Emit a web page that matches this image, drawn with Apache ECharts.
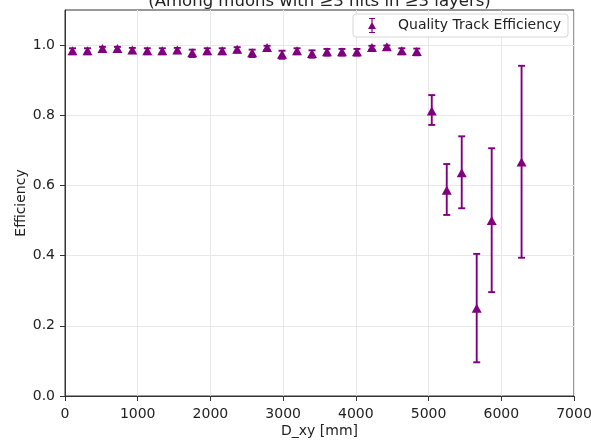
<!DOCTYPE html>
<html><head><meta charset="utf-8">
<script src="https://cdn.jsdelivr.net/npm/echarts@6/dist/echarts.min.js"></script>
<style>html,body{margin:0;padding:0;background:#fff}#c{width:591px;height:440px}</style>
</head><body><div id="c"></div>
<script>
// D_xy bin centres [mm]
const dxy = [103, 309, 515, 721, 926, 1132, 1338, 1544, 1750, 1956, 2162, 2368, 2574, 2779, 2985, 3191, 3397, 3603, 3809, 4015, 4221, 4426, 4632, 4838, 5044, 5250, 5456, 5662, 5868, 6279];
// efficiency values
const eff = [0.984, 0.984, 0.990, 0.990, 0.986, 0.984, 0.984, 0.986, 0.978, 0.984, 0.984, 0.988, 0.978, 0.993, 0.974, 0.984, 0.976, 0.981, 0.981, 0.981, 0.993, 0.995, 0.984, 0.982, 0.8125, 0.586, 0.636, 0.250, 0.500, 0.667];
// lower / upper error
const errLow = [0.010, 0.010, 0.008, 0.008, 0.009, 0.010, 0.010, 0.009, 0.012, 0.010, 0.010, 0.009, 0.012, 0.007, 0.013, 0.010, 0.012, 0.011, 0.011, 0.011, 0.007, 0.006, 0.010, 0.011, 0.040, 0.070, 0.101, 0.154, 0.204, 0.273];
const errHigh = [0.007, 0.007, 0.005, 0.005, 0.006, 0.007, 0.007, 0.006, 0.009, 0.007, 0.007, 0.006, 0.009, 0.005, 0.010, 0.007, 0.009, 0.008, 0.008, 0.008, 0.005, 0.004, 0.007, 0.008, 0.045, 0.075, 0.104, 0.155, 0.206, 0.274];
const xTicks = [0, 1000, 2000, 3000, 4000, 5000, 6000, 7000];
const yTicks = [0.0, 0.2, 0.4, 0.6, 0.8, 1.0];
const seriesName = 'Quality Track Efficiency';
const titleText = '(Among muons with ≥3 hits in ≥3 layers)';
const xName = 'D_xy [mm]';
const yName = 'Efficiency';

const purple = '#800080';
const FONT = 'DejaVu Sans';
const chart = echarts.init(document.getElementById('c'), null, {renderer: 'canvas'});
const pts = dxy.map((x, i) => [x, eff[i]]);
const bars = dxy.map((x, i) => [x, eff[i] - errLow[i], eff[i] + errHigh[i]]);
const legendIcon = 'path://M1,0H7V1H4.6V14H7V15H1V14H3.4V1H1Z M4,4L8,11H0Z';

const option = {
  animation: false,
  textStyle: {fontFamily: FONT},
  grid: {left: 65, right: 17, top: 10, bottom: 44, containLabel: false, outerBoundsMode: 'none',
         show: true, borderColor: '#333', borderWidth: 1, backgroundColor: 'transparent'},
  graphic: [{
    type: 'text', x: 319.5, y: 10, z: 100,
    style: {text: titleText, fontSize: 16.5, fill: '#222', align: 'center', verticalAlign: 'bottom', fontFamily: FONT}
  }],
  legend: {
    data: [{name: seriesName, icon: legendIcon}],
    left: 353, top: 14,
    padding: [4, 7, 4, 15],
    itemWidth: 8, itemHeight: 15,
    backgroundColor: '#fff', borderColor: '#d6d6d6', borderWidth: 1, borderRadius: 3,
    textStyle: {fontSize: 14, color: '#222', fontFamily: FONT, padding: [0, 0, 0, 17]}
  },
  xAxis: {
    type: 'value', min: 0, max: 7000, interval: 1000,
    name: xName, nameLocation: 'middle', nameGap: 28, nameMoveOverlap: false,
    nameTextStyle: {fontSize: 14, color: '#222', fontFamily: FONT},
    axisLine: {show: true, onZero: false, lineStyle: {color: '#333', width: 1}},
    axisTick: {show: true, length: 5, lineStyle: {color: '#333'}, customValues: xTicks},
    axisLabel: {fontSize: 14, color: '#222', margin: 11, customValues: xTicks, formatter: v => String(v)},
    splitLine: {show: true, lineStyle: {color: '#e8e8e8', width: 1}}
  },
  yAxis: {
    type: 'value', min: 0, max: 1.1, interval: 0.2,
    name: yName, nameLocation: 'middle', nameGap: 37, nameMoveOverlap: false,
    nameTextStyle: {fontSize: 14, color: '#222', fontFamily: FONT},
    axisLine: {show: true, onZero: false, lineStyle: {color: '#333', width: 1}},
    axisTick: {show: true, length: 5, lineStyle: {color: '#333'}, customValues: yTicks},
    axisLabel: {fontSize: 14, color: '#222', margin: 10, customValues: yTicks, formatter: v => Number(v).toFixed(1)},
    splitLine: {show: true, lineStyle: {color: '#e8e8e8', width: 1}}
  },
  series: [
    {
      type: 'custom', name: 'errors', data: bars, encode: {x: 0, y: [1, 2]}, z: 3,
      renderItem: function (params, api) {
        const x = api.value(0), lo = api.value(1), hi = api.value(2);
        const pLo = api.coord([x, lo]), pHi = api.coord([x, hi]);
        const hw = 3.5;
        const st = {stroke: purple, lineWidth: 1.9};
        return {type: 'group', children: [
          {type: 'line', shape: {x1: pLo[0], y1: pLo[1], x2: pHi[0], y2: pHi[1]}, style: st},
          {type: 'line', shape: {x1: pLo[0] - hw, y1: pLo[1], x2: pLo[0] + hw, y2: pLo[1]}, style: st},
          {type: 'line', shape: {x1: pHi[0] - hw, y1: pHi[1], x2: pHi[0] + hw, y2: pHi[1]}, style: st}
        ]};
      }
    },
    {
      type: 'scatter', name: seriesName, data: pts, symbol: 'triangle', symbolSize: [10, 9], z: 4,
      itemStyle: {color: purple, opacity: 1}
    }
  ]
};
chart.setOption(option);
</script>
</body></html>
